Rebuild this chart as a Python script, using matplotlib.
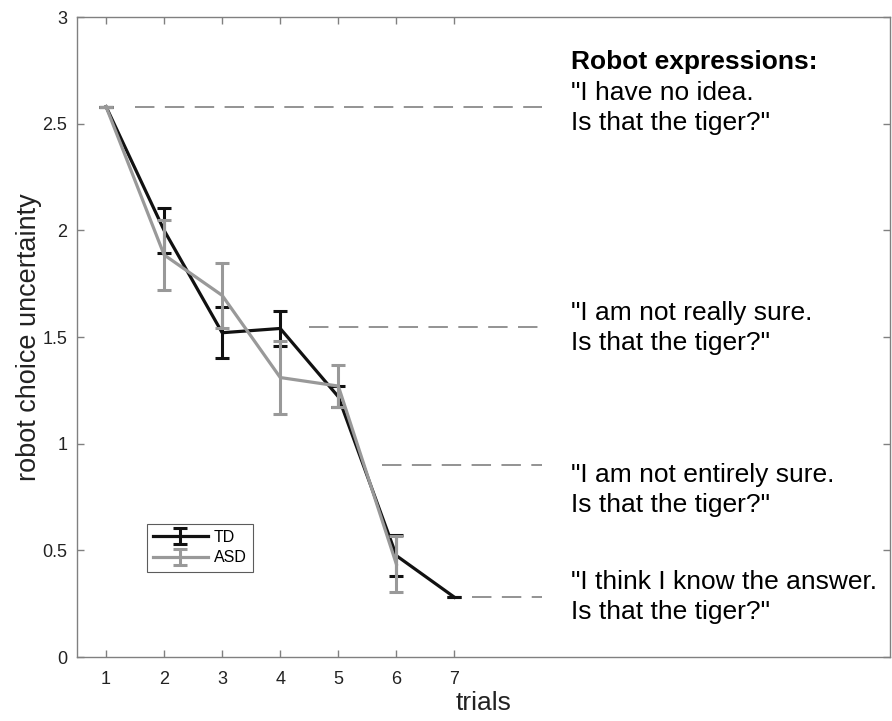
import matplotlib
matplotlib.use("Agg")
import matplotlib.pyplot as plt

plt.rcParams['font.family'] = ['Liberation Sans', 'DejaVu Sans']
plt.rcParams['lines.scale_dashes'] = False

# data
trials_td = [1, 2, 3, 4, 5, 6, 7]
td_mean = [2.58, 2.00, 1.52, 1.54, 1.22, 0.475, 0.28]
td_err = [0.0, 0.107, 0.12, 0.08, 0.05, 0.096, 0.0]

trials_asd = [1, 2, 3, 4, 5, 6]
asd_mean = [2.58, 1.885, 1.695, 1.31, 1.27, 0.435]
asd_err = [0.0, 0.165, 0.152, 0.17, 0.10, 0.13]

# uncertainty levels of robot expressions
level_y = [2.578, 1.547, 0.90, 0.281]
level_start = [1.5, 4.5, 5.75, 7.3]
level_end = 8.5
expr_text = ['"I have no idea.\nIs that the tiger?"',
             '"I am not really sure.\nIs that the tiger?"',
             '"I am not entirely sure.\nIs that the tiger?"',
             '"I think I know the answer.\nIs that the tiger?"']
expr_y = [2.574, 1.542, 0.783, 0.281]

fig = plt.figure(figsize=(8.92, 7.21), dpi=100)
ax = fig.add_axes([77 / 892, (721 - 657) / 721, (890 - 77) / 892, (657 - 17) / 721])

for y, x0 in zip(level_y, level_start):
    ax.plot([x0, level_end], [y, y], color='#808080', lw=1.2, dashes=(14, 7.5))

ax.errorbar(trials_td, td_mean, yerr=td_err, color='#111111', lw=2.3,
            capsize=5, capthick=2.2, elinewidth=2.2, label='TD', zorder=3)
ax.errorbar(trials_asd, asd_mean, yerr=asd_err, color='#999999', lw=2.3,
            capsize=5, capthick=2.2, elinewidth=2.2, label='ASD', zorder=4)

ax.text(9.0, 2.79, 'Robot expressions:', fontsize=19, fontweight='bold',
        va='center', ha='left')
for t, y in zip(expr_text, expr_y):
    ax.text(9.0, y, t, fontsize=19, va='center', ha='left', linespacing=1.32)

ax.set_xlim(0.5, 14.5)
ax.set_ylim(0, 3)
ax.set_xticks(trials_td)
ax.set_yticks([0, 0.5, 1, 1.5, 2, 2.5, 3])
ax.set_yticklabels(['0', '0.5', '1', '1.5', '2', '2.5', '3'])
ax.tick_params(direction='in', length=5, width=1, colors='#808080',
               labelcolor='#222222', labelsize=13, top=True, right=True, pad=7)
ax.tick_params(axis='x', pad=10)
for s in ax.spines.values():
    s.set_color('#808080')
    s.set_linewidth(1)

ax.set_xlabel('trials', fontsize=19, color='#222222', labelpad=2)
ax.set_ylabel('robot choice uncertainty', fontsize=19.5, color='#222222', labelpad=0)

leg = ax.legend(loc='lower left', bbox_to_anchor=(0.086, 0.133), borderaxespad=0,
                fontsize=11.5, frameon=True, fancybox=False, handlelength=3.4,
                handletextpad=0.4, labelspacing=0.35, borderpad=0.4)
leg.get_frame().set_edgecolor('#333333')
leg.get_frame().set_linewidth(0.8)

fig.savefig('out.png', dpi=100)
